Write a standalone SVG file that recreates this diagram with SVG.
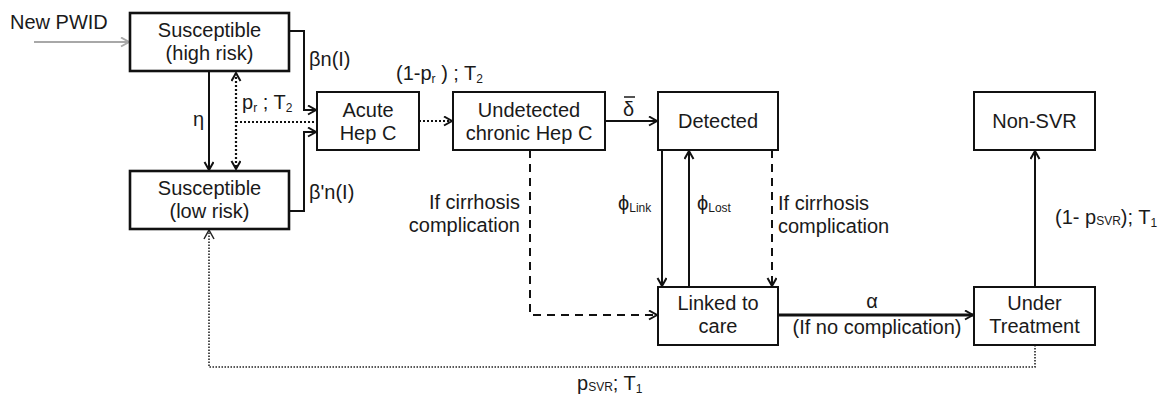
<svg xmlns="http://www.w3.org/2000/svg" width="1168" height="399" viewBox="0 0 1168 399">
  <style>
    .box { fill: #fff; stroke: #111; stroke-width: 2; }
    .box.thick { stroke-width: 2.6; }
    .t { font-family: "Liberation Sans", Arial, sans-serif; font-size: 20px; fill: #1a1a1a; }
    .c { text-anchor: middle; }
    .r { text-anchor: end; }
    .sub { font-size: 12px; }
    .ln { fill: none; stroke: #111; stroke-width: 2; }
    .dot { fill: none; stroke: #111; stroke-width: 2.2; stroke-dasharray: 2 2; }
    .fine { fill: none; stroke: #222; stroke-width: 1.6; stroke-dasharray: 1.5 1.5; }
    .dash { fill: none; stroke: #111; stroke-width: 2; stroke-dasharray: 8 6; }
  </style>
  <defs>
    <marker id="arr" markerUnits="userSpaceOnUse" markerWidth="12" markerHeight="12" refX="9" refY="5" orient="auto-start-reverse">
      <path d="M1,0.5 L9,5 L1,9.5" fill="none" stroke="#111" stroke-width="2"/>
    </marker>
    <marker id="arrg" markerUnits="userSpaceOnUse" markerWidth="12" markerHeight="12" refX="9" refY="5" orient="auto">
      <path d="M1,0.5 L9,5 L1,9.5" fill="none" stroke="#a8a8a8" stroke-width="2"/>
    </marker>
  </defs>

  <!-- connectors -->
  <g id="connectors">
    <!-- inflow of new people who inject drugs -->
    <line x1="34" y1="42" x2="129" y2="42" stroke="#a8a8a8" stroke-width="2" marker-end="url(#arrg)"/>
    <!-- infection from both susceptible groups -->
    <polyline class="ln" points="289,31 304,31 304,110 316,110" marker-end="url(#arr)"/>
    <polyline class="ln" points="289,211 304,211 304,132 316,132" marker-end="url(#arr)"/>
    <!-- risk reduction -->
    <line class="ln" x1="209" y1="71" x2="209" y2="170" marker-end="url(#arr)"/>
    <!-- spontaneous clearance -->
    <line class="dot" x1="236" y1="73" x2="236" y2="169" marker-start="url(#arr)" marker-end="url(#arr)"/>
    <line class="dot" x1="236" y1="122" x2="317" y2="122"/>
    <!-- acute to chronic -->
    <line class="dot" x1="419" y1="121" x2="452" y2="121" marker-end="url(#arr)"/>
    <!-- diagnosis -->
    <line class="ln" x1="605" y1="121" x2="657" y2="121" marker-end="url(#arr)"/>
    <!-- linkage and loss to follow-up -->
    <line class="ln" x1="662" y1="150" x2="662" y2="286" marker-end="url(#arr)"/>
    <line class="ln" x1="689" y1="287" x2="689" y2="151" marker-end="url(#arr)"/>
    <!-- cirrhosis complication paths -->
    <line class="dash" x1="772" y1="150" x2="772" y2="286" marker-end="url(#arr)"/>
    <polyline class="dash" points="530,150 530,315 657,315" marker-end="url(#arr)"/>
    <!-- treatment start -->
    <line x1="778" y1="315" x2="973" y2="315" stroke="#111" stroke-width="3" marker-end="url(#arr)"/>
    <!-- treatment failure -->
    <line class="ln" x1="1035" y1="287" x2="1035" y2="151" marker-end="url(#arr)"/>
    <!-- cure returns to low-risk susceptible -->
    <polyline class="fine" points="1035,345 1035,367 209,367 209,231"/>
    <path d="M204,239 L209,230 L214,239" fill="none" stroke="#222" stroke-width="1.5"/>
  </g>

  <!-- nodes -->
  <g id="susceptible-high">
    <rect class="box thick" x="130" y="13" width="159" height="58"/>
    <text class="t c" x="209.5" y="37">Susceptible</text>
    <text class="t c" x="209.5" y="60">(high risk)</text>
  </g>
  <g id="susceptible-low">
    <rect class="box thick" x="130" y="171" width="159" height="58"/>
    <text class="t c" x="209.5" y="195">Susceptible</text>
    <text class="t c" x="209.5" y="218">(low risk)</text>
  </g>
  <g id="acute">
    <rect class="box" x="317" y="92" width="102" height="58"/>
    <text class="t c" x="368" y="117">Acute</text>
    <text class="t c" x="368" y="140">Hep C</text>
  </g>
  <g id="undetected">
    <rect class="box" x="453" y="92" width="152" height="58"/>
    <text class="t c" x="529" y="117">Undetected</text>
    <text class="t c" x="529" y="140">chronic Hep C</text>
  </g>
  <g id="detected">
    <rect class="box" x="658" y="92" width="120" height="58"/>
    <text class="t c" x="718" y="128">Detected</text>
  </g>
  <g id="non-svr">
    <rect class="box" x="974" y="92" width="121" height="58"/>
    <text class="t c" x="1034.5" y="128">Non-SVR</text>
  </g>
  <g id="linked">
    <rect class="box" x="658" y="287" width="120" height="58"/>
    <text class="t c" x="718" y="310">Linked to</text>
    <text class="t c" x="718" y="333">care</text>
  </g>
  <g id="treatment">
    <rect class="box" x="974" y="287" width="121" height="58"/>
    <text class="t c" x="1034.5" y="310">Under</text>
    <text class="t c" x="1034.5" y="333">Treatment</text>
  </g>

  <!-- transition labels -->
  <g id="labels">
    <text class="t" x="10" y="29">New PWID</text>
    <text class="t" x="309" y="66">βn(I)</text>
    <text class="t" x="309" y="199">β'n(I)</text>
    <text class="t" x="193" y="126">η</text>
    <text class="t" x="242" y="109">p<tspan class="sub" dy="3">r</tspan><tspan dy="-3"> ; T</tspan><tspan class="sub" dy="3">2</tspan></text>
    <text class="t" x="396" y="80">(1-p<tspan class="sub" dy="3">r</tspan><tspan dy="-3"> ) ; T</tspan><tspan class="sub" dy="3">2</tspan></text>
    <text class="t" x="623" y="116">δ</text>
    <line x1="624" y1="97" x2="635" y2="97" stroke="#1a1a1a" stroke-width="1.5"/>
    <text class="t" x="618" y="210">ϕ<tspan class="sub" dy="2">Link</tspan></text>
    <text class="t" x="697" y="210">ϕ<tspan class="sub" dy="2">Lost</tspan></text>
    <text class="t" x="778" y="210">If cirrhosis</text>
    <text class="t" x="778" y="233">complication</text>
    <text class="t r" x="520" y="209">If cirrhosis</text>
    <text class="t r" x="520" y="232">complication</text>
    <text class="t c" x="872" y="308">α</text>
    <text class="t c" x="877" y="334">(If no complication)</text>
    <text class="t" x="1055" y="224">(1- p<tspan class="sub" dy="1">SVR</tspan><tspan dy="-1">); T</tspan><tspan class="sub" dy="3">1</tspan></text>
    <text class="t" x="577" y="390">p<tspan class="sub" dy="1">SVR</tspan><tspan dy="-1">; T</tspan><tspan class="sub" dy="3">1</tspan></text>
  </g>
</svg>
